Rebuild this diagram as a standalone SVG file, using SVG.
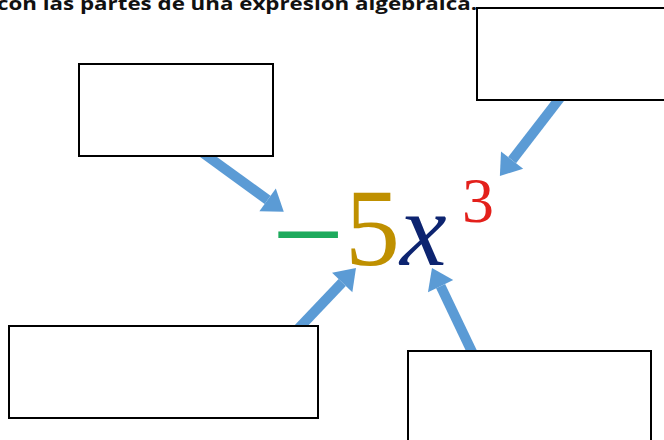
<svg xmlns="http://www.w3.org/2000/svg" width="664" height="440" viewBox="0 0 664 440">
<style>
.box{fill:#fff;stroke:#000;stroke-width:2}
.arr{stroke:#5B9BD5;stroke-width:10;fill:none}
.title{font-family:"Open Sans","Liberation Sans",sans-serif;font-weight:bold;font-size:17px;fill:#111}
.m{font-family:"Liberation Serif","DejaVu Serif",serif}
</style>
<defs>
<marker id="ah" markerUnits="userSpaceOnUse" markerWidth="22" markerHeight="28" refX="0" refY="14" orient="auto" overflow="visible">
<path d="M0,0 L20,14 L0,28 Z" fill="#5B9BD5"/>
</marker>
</defs>
<rect width="664" height="440" fill="#fff"/>
<text class="title" x="-3" y="10" textLength="480" lengthAdjust="spacingAndGlyphs">con las partes de una expresión algebraica.</text>
<g id="connectors">
<line class="arr" x1="203" y1="153" x2="267.6" y2="199.9" marker-end="url(#ah)"/>
<line class="arr" x1="560" y1="98" x2="512.1" y2="160.1" marker-end="url(#ah)"/>
<line class="arr" x1="298" y1="329" x2="342.2" y2="282.5" marker-end="url(#ah)"/>
<line class="arr" x1="473" y1="354" x2="440.6" y2="286.1" marker-end="url(#ah)"/>
</g>
<g id="box-top-left"><rect class="box" x="79" y="64" width="194" height="92"/></g>
<g id="box-top-right"><rect class="box" x="477" y="8" width="200" height="92"/></g>
<g id="box-bottom-left"><rect class="box" x="9" y="326" width="309" height="92"/></g>
<g id="box-bottom-right"><rect class="box" x="408" y="351" width="243" height="100"/></g>
<g id="expression">
<text class="m" x="272" y="277" font-size="128" fill="#1DAA5C">−</text>
<text class="m" x="345" y="265" font-size="110" fill="#BF9000">5</text>
<text class="m" x="400" y="265" font-size="105" font-style="italic" fill="#0D2470">x</text>
<text class="m" x="462" y="222" font-size="64" fill="#E3201B">3</text>
</g>
</svg>
